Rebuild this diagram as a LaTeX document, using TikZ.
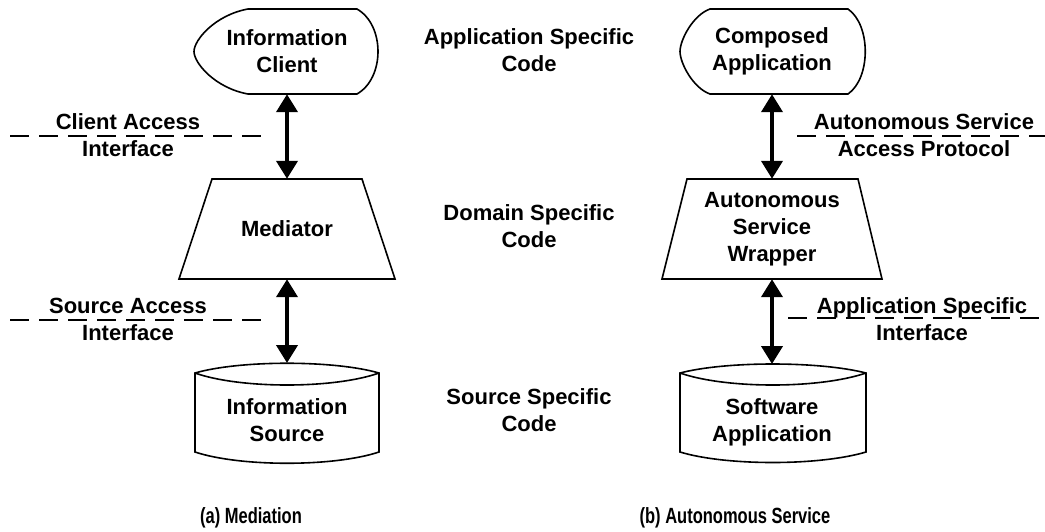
\documentclass[tikz,border=0pt]{standalone}
\usepackage{fontspec}
\setmainfont{Liberation Sans}
\newfontfamily\capfont[FakeStretch=0.75]{Liberation Sans}
\usetikzlibrary{arrows.meta}

\tikzset{
  txt/.style={align=center,inner sep=0pt,font=\bfseries\fontsize{22}{27}\selectfont},
  captxt/.style={inner sep=0pt,font=\capfont\bfseries\fontsize{22}{26}\selectfont},
  shp/.style={black,line width=1.6pt,line join=miter},
  cut/.style={black,line width=1.6pt,dash pattern=on 19pt off 10pt},
  biarrow/.style={line width=4pt,{Triangle[length=18pt,width=21pt]}-{Triangle[length=18pt,width=21pt]}}
}

\begin{document}
\begin{tikzpicture}[x=1pt,y=-1pt]
        \useasboundingbox (0,0) rectangle (1045,531);

        %LEFT: MEDIATION
        \draw[shp] (248,9) -- (357,9) .. controls (385,25) and (385,78) .. (357,94) -- (248,94)
            .. controls (215,88) and (194,63) .. (194,51.5) .. controls (194,40) and (215,15) .. cycle;
        \node[txt,minimum height=85pt] (client) at (287,51.5) {Information\\Client};

        \draw[shp] (212,179) -- (362,179) -- (395,279) -- (179,279) -- cycle;
        \node[txt,minimum height=100pt] (mediator) at (287,229) {Mediator};

        % cylinder
        \draw[shp] (195,373) .. controls (240,360) and (334,360) .. (379,373) -- (379,452)
            .. controls (334,467) and (240,467) .. (195,452) -- cycle;
        \draw[shp] (195,373) .. controls (240,389) and (334,389) .. (379,373);
        \coordinate (infotop) at (287,363);
        \node[txt] (infosrc) at (287,420) {Information\\Source};

        \draw[biarrow] (client.south) -- (mediator.north);
        \draw[biarrow] (mediator.south) -- (infotop);

        \draw[cut] (10,136) -- (262,136);
        \node[txt] (clientif) at (128,135.5) {Client Access\\Interface};
        \draw[cut] (10,320) -- (262,320);
        \node[txt] (sourceif) at (128,319.5) {Source Access\\Interface};

        %MIDDLE
        \node[txt] (appcode) at (529,50.5) {Application Specific\\Code};
        \node[txt] (domcode) at (529,226.5) {Domain Specific\\Code};
        \node[txt] (srccode) at (529,410.5) {Source Specific\\Code};

        %RIGHT: AUTONOMOUS SERVICE
        \draw[shp] (710,9) -- (848,9) .. controls (871,25) and (871,78) .. (848,94) -- (710,94)
            .. controls (693,88) and (680,63) .. (680,51.5) .. controls (680,40) and (693,15) .. cycle;
        \node[txt,minimum height=85pt] (composed) at (772,51.5) {Composed\\Application};

        \draw[shp] (687,179) -- (858,179) -- (882,279) -- (662,279) -- cycle;
        \node[txt,minimum height=100pt] (wrapper) at (772,229) {Autonomous\\Service\\Wrapper};

        \draw[shp] (680,373) .. controls (726,361) and (819,361) .. (866,373) -- (866,452)
            .. controls (819,466) and (726,466) .. (680,452) -- cycle;
        \draw[shp] (680,373) .. controls (726,389) and (819,389) .. (866,373);
        \coordinate (softtop) at (772,364);
        \node[txt] (software) at (772,422.5) {Software\\Application};

        \draw[biarrow] (composed.south) -- (wrapper.north);
        \draw[biarrow] (wrapper.south) -- (softtop);

        \draw[cut] (797,136) -- (1045,136);
        \node[txt] (asap) at (924,135.5) {Autonomous Service\\Access Protocol};
        \draw[cut] (788,318) -- (1042,318);
        \node[txt] (appif) at (922,319.5) {Application Specific\\Interface};

        %CAPTIONS
        \node[captxt] (capa) at (251,518) {(a) Mediation};
        \node[captxt] (capb) at (735,518) {(b) Autonomous Service};
\end{tikzpicture}
\end{document}
